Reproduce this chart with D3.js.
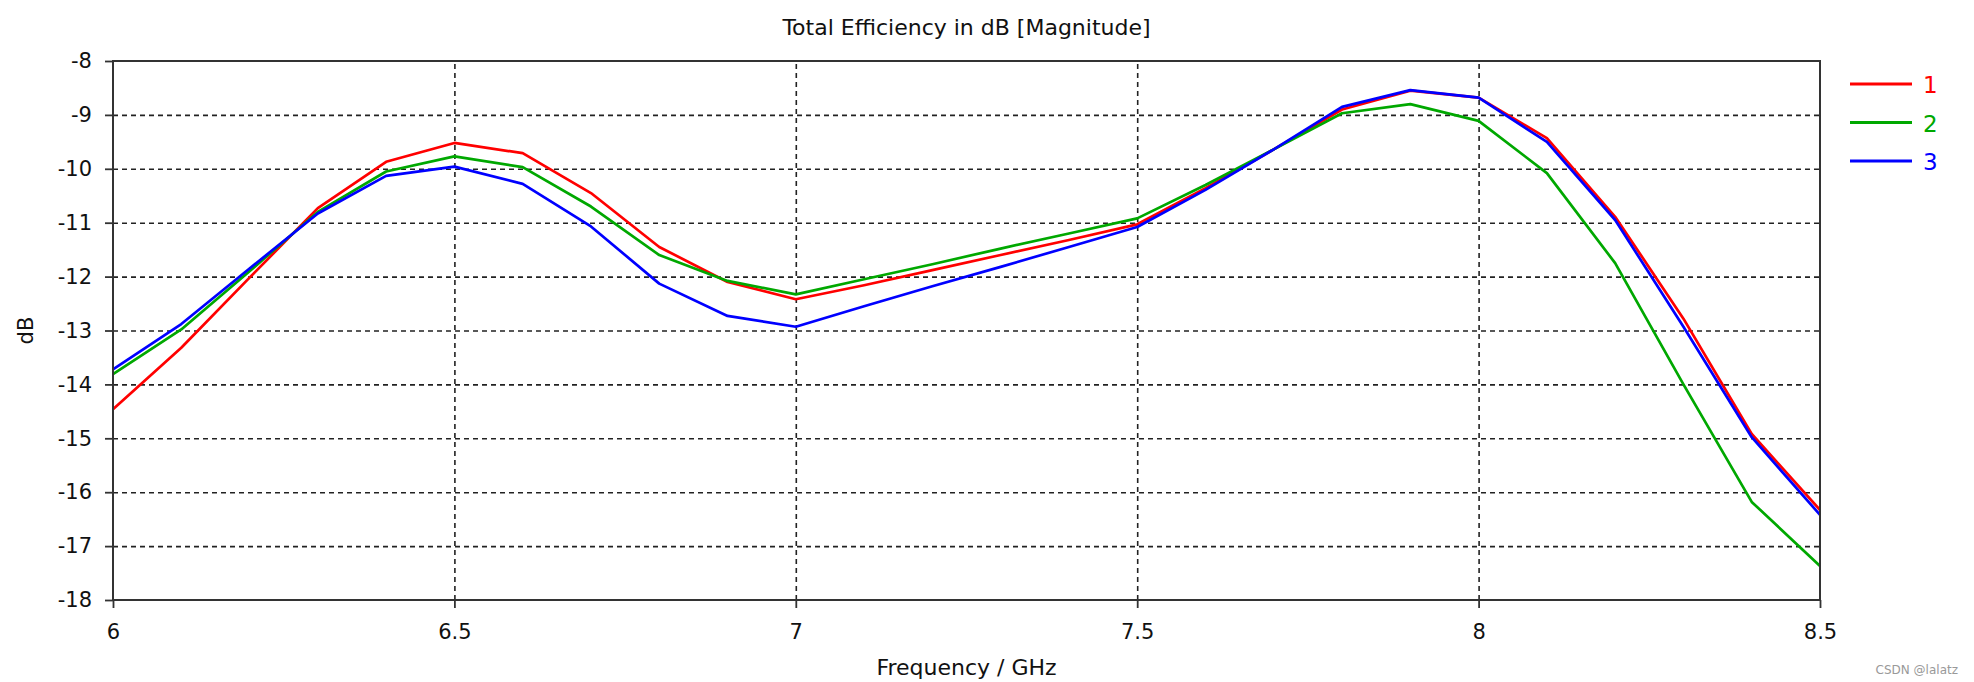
<!DOCTYPE html>
<html>
<head>
<meta charset="utf-8">
<script src="https://cdn.jsdelivr.net/npm/d3@7/dist/d3.min.js"></script>
<style>
	body { margin: 0; background: #fff; }
	text { font-family: 'DejaVu Sans', Verdana, sans-serif; fill: #111; }
	.grid line { stroke: #222; stroke-width: 1.6; stroke-dasharray: 5, 4; }
	.grid path { display: none; }
	.axis path { display: none; }
	.axis line { stroke: #333; stroke-width: 1.8; }
	.axis text { font-size: 21px; }
</style>
</head>
<body>
<script>

// Frequency in GHz, stap van 0.1
const freq = [ 6.0, 6.1, 6.2, 6.3, 6.4, 6.5, 6.6, 6.7, 6.8, 6.9, 7.0, 7.1, 7.2,
	7.3, 7.4, 7.5, 7.6, 7.7, 7.8, 7.9, 8.0, 8.1, 8.2, 8.3, 8.4, 8.5 ]

const serie1 = [ -14.46, -13.32, -12.02, -10.73, -9.87, -9.52, -9.71, -10.45, -11.45, -12.1,
	-12.42, -12.16, -11.88, -11.6, -11.32, -11.03, -10.36, -9.64, -8.9, -8.55,
	-8.68, -9.43, -10.89, -12.78, -14.92, -16.33 ]

const serie2 = [ -13.81, -12.98, -11.9, -10.8, -10.05, -9.77, -9.97, -10.7, -11.6, -12.08,
	-12.33, -12.05, -11.77, -11.48, -11.2, -10.92, -10.3, -9.64, -8.97, -8.8,
	-9.11, -10.08, -11.75, -14.0, -16.18, -17.37 ]

const serie3 = [ -13.72, -12.88, -11.85, -10.83, -10.13, -9.96, -10.28, -11.07, -12.13, -12.73,
	-12.93, -12.55, -12.18, -11.82, -11.45, -11.08, -10.39, -9.64, -8.85, -8.54,
	-8.68, -9.5, -10.95, -12.93, -14.98, -16.42 ]

const serieNames = [ '1', '2', '3' ]
const serieColors = [ '#ff0000', '#00a800', '#0000ff' ]

const xTicks = [ 6, 6.5, 7, 7.5, 8, 8.5 ]
const yTicks = [ -18, -17, -16, -15, -14, -13, -12, -11, -10, -9, -8 ]

const title = 'Total Efficiency in dB [Magnitude]',
	xLabel = 'Frequency / GHz',
	yLabel = 'dB'

const width = 1974,
	height = 682,
	plot = { left: 113, right: 1820, top: 61, bottom: 600 }

const svg = d3.select( 'body' )
	.append( 'svg' )
	.attr( 'width', width )
	.attr( 'height', height )

const x = d3.scaleLinear()
	.domain( [ 6, 8.5 ] )
	.range( [ plot.left, plot.right ] )

const y = d3.scaleLinear()
	.domain( [ -18, -8 ] )
	.range( [ plot.bottom, plot.top ] )

const plotW = plot.right - plot.left,
	plotH = plot.bottom - plot.top

// Gestippelde grid
svg.append( 'g' )
	.attr( 'class', 'grid' )
	.attr( 'transform', `translate( 0, ${ plot.bottom } )` )
	.call( d3.axisBottom( x ).tickValues( xTicks.slice( 1, -1 ) ).tickSize( -plotH ).tickFormat( '' ) )

svg.append( 'g' )
	.attr( 'class', 'grid' )
	.attr( 'transform', `translate( ${ plot.left }, 0 )` )
	.call( d3.axisLeft( y ).tickValues( yTicks.slice( 1, -1 ) ).tickSize( -plotW ).tickFormat( '' ) )

// Lijnen
const series = [ serie1, serie2, serie3 ].map( ( s, i ) => ( {
	name: serieNames[ i ],
	color: serieColors[ i ],
	values: s.map( ( v, j ) => ( { f: freq[ j ], v } ) )
} ) )

const line = d3.line()
	.x( d => x( d.f ) )
	.y( d => y( d.v ) )

svg.selectAll( '.serie' )
	.data( series )
	.enter()
	.append( 'path' )
	.attr( 'class', 'serie' )
	.attr( 'fill', 'none' )
	.attr( 'stroke', d => d.color )
	.attr( 'stroke-width', 2.7 )
	.attr( 'stroke-linejoin', 'round' )
	.attr( 'd', d => line( d.values ) )

// Kader
svg.append( 'rect' )
	.attr( 'x', plot.left )
	.attr( 'y', plot.top )
	.attr( 'width', plotW )
	.attr( 'height', plotH )
	.attr( 'fill', 'none' )
	.attr( 'stroke', '#333' )
	.attr( 'stroke-width', 2 )

// Assen
svg.append( 'g' )
	.attr( 'class', 'axis' )
	.attr( 'transform', `translate( 0, ${ plot.bottom } )` )
	.call( d3.axisBottom( x )
		.tickValues( xTicks )
		.tickSize( 8 )
		.tickPadding( 16 )
		.tickFormat( d => String( d ) ) )

svg.append( 'g' )
	.attr( 'class', 'axis' )
	.attr( 'transform', `translate( ${ plot.left }, 0 )` )
	.call( d3.axisLeft( y )
		.tickValues( yTicks )
		.tickSize( 8 )
		.tickPadding( 13 )
		.tickFormat( d => String( d ) ) )

svg.selectAll( '.axis text' ).attr( 'fill', '#111' )

// Titels
svg.append( 'text' )
	.attr( 'x', ( plot.left + plot.right ) / 2 )
	.attr( 'y', 35 )
	.attr( 'text-anchor', 'middle' )
	.style( 'font-size', '22px' )
	.text( title )

svg.append( 'text' )
	.attr( 'x', ( plot.left + plot.right ) / 2 )
	.attr( 'y', 675 )
	.attr( 'text-anchor', 'middle' )
	.style( 'font-size', '22px' )
	.text( xLabel )

svg.append( 'text' )
	.attr( 'transform', `translate( 33, ${ ( plot.top + plot.bottom ) / 2 } ) rotate( -90 )` )
	.attr( 'text-anchor', 'middle' )
	.style( 'font-size', '21px' )
	.text( yLabel )

// Legenda
const legend = svg.selectAll( '.item' )
	.data( series )
	.enter()
	.append( 'g' )
	.attr( 'class', 'item' )
	.attr( 'transform', ( d, i ) => `translate( 1850, ${ 84 + i * 38.5 } )` )

legend.append( 'line' )
	.attr( 'x1', 0 )
	.attr( 'x2', 62 )
	.attr( 'stroke', d => d.color )
	.attr( 'stroke-width', 3 )

legend.append( 'text' )
	.attr( 'x', 73 )
	.attr( 'dy', '0.4em' )
	.style( 'font-size', '23px' )
	.style( 'fill', d => d.color )
	.text( d => d.name )

svg.append( 'text' )
	.attr( 'x', 1958 )
	.attr( 'y', 674 )
	.attr( 'text-anchor', 'end' )
	.style( 'font-size', '12px' )
	.style( 'fill', '#999' )
	.text( 'CSDN @lalatz' )

</script>
</body>
</html>
